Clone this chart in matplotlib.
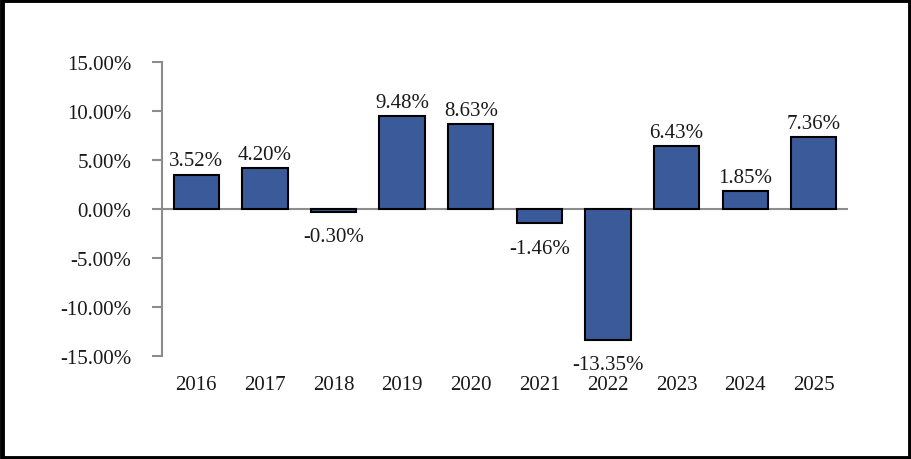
import matplotlib.pyplot as plt
from matplotlib.patches import Rectangle

years = ['2016', '2017', '2018', '2019', '2020', '2021', '2022', '2023', '2024', '2025']
returns = [3.52, 4.20, -0.30, 9.48, 8.63, -1.46, -13.35, 6.43, 1.85, 7.36]
yticks = [15, 10, 5, 0, -5, -10, -15]

plt.rcParams['font.family'] = ['Liberation Serif', 'DejaVu Serif']
fs = 15

fig = plt.figure(figsize=(9.12, 4.6), dpi=100)
ax = fig.add_axes([0.1776, 0.2239, 0.7524, 0.6391])

x = range(len(years))
ax.bar(x, returns, width=0.66, color='#3a5a9a', edgecolor='black', linewidth=1.5, zorder=3)
ax.axhline(0, color='#8c8c8c', linewidth=1.5, zorder=2)

for i, v in enumerate(returns):
    if v >= 0:
        ax.annotate(f'{v:.2f}%', (i, v), xytext=(0, 3), textcoords='offset points',
                    ha='center', va='bottom', fontsize=fs, color='#1a1a1a')
    else:
        ax.annotate(f'{v:.2f}%', (i, v), xytext=(0, -11), textcoords='offset points',
                    ha='center', va='top', fontsize=fs, color='#1a1a1a')

ax.set_xlim(-0.5, 9.5)
ax.set_ylim(-15, 15)
ax.set_yticks(yticks)
ax.set_yticklabels([f'{t:.2f}%' for t in yticks], fontsize=fs, color='#1a1a1a')
ax.set_xticks(list(x))
ax.set_xticklabels(years, fontsize=fs, color='#1a1a1a')
ax.tick_params(axis='x', length=0, pad=14)
ax.tick_params(axis='y', direction='out', length=7, width=1.5, color='#8c8c8c', pad=15)

for s in ['top', 'right', 'bottom']:
    ax.spines[s].set_visible(False)
ax.spines['left'].set_color('#8c8c8c')
ax.spines['left'].set_linewidth(1.5)

fig.patches.append(Rectangle((0.002, 0.003), 0.996, 0.994, transform=fig.transFigure,
                             fill=False, edgecolor='black', linewidth=3.5))

fig.savefig('out.png', dpi=100)
